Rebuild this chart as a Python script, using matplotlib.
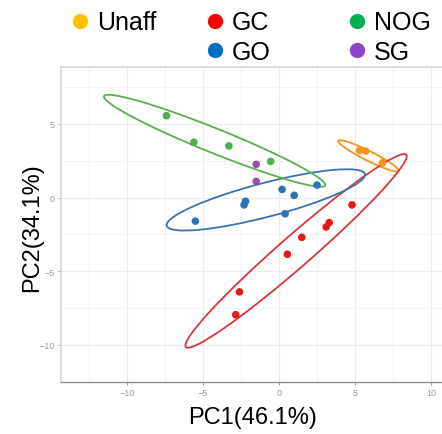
import numpy as np
import matplotlib.pyplot as plt
from matplotlib.patches import Ellipse
from matplotlib.lines import Line2D

plt.rcParams['font.family'] = ['Liberation Sans', 'DejaVu Sans']

# -------------------------------------------------
# Data
# -------------------------------------------------

groups = ['Unaff', 'GC', 'GO', 'NOG', 'SG']

pc1 = {
    'Unaff': [5.3, 5.7, 6.8],
    'GC':    [4.8, 3.3, 3.1, 1.5, 0.55, -2.6, -2.85],
    'GO':    [-5.5, -2.3, -2.2, 0.2, 1.0, 0.4, 2.5],
    'NOG':   [-7.4, -5.6, -3.3, -0.55],
    'SG':    [-1.5, -1.5],
}
pc2 = {
    'Unaff': [3.2, 3.15, 2.35],
    'GC':    [-0.5, -1.7, -2.0, -2.7, -3.85, -6.4, -7.95],
    'GO':    [-1.6, -0.5, -0.25, 0.55, 0.15, -1.1, 0.85],
    'NOG':   [5.55, 3.75, 3.5, 2.45],
    'SG':    [2.25, 1.1],
}

# ellipses: center x, center y, full width, full height, angle (deg)
ell_cx    = {'Unaff': 5.88, 'GC': 1.12, 'GO': -0.87, 'NOG': -4.24, 'SG': None}
ell_cy    = {'Unaff': 2.83, 'GC': -3.62, 'GO': -0.16, 'NOG': 3.85, 'SG': None}
ell_w     = {'Unaff': 4.45, 'GC': 19.5, 'GO': 13.5, 'NOG': 15.75, 'SG': None}
ell_h     = {'Unaff': 0.65, 'GC': 2.1, 'GO': 2.3, 'NOG': 1.65, 'SG': None}
ell_angle = {'Unaff': -27.3, 'GC': 42.0, 'GO': 15.1, 'NOG': -22.6, 'SG': None}

pt_colors  = {'Unaff': '#F7941D', 'GC': '#E41A1C', 'GO': '#2F72B5',
              'NOG': '#4DAF4A', 'SG': '#984EA3'}
ell_colors = {'Unaff': '#F7941D', 'GC': '#D7373B', 'GO': '#3A73B0',
              'NOG': '#5AAE4E', 'SG': '#984EA3'}
leg_colors = {'Unaff': '#FFC000', 'GC': '#FF0000', 'GO': '#0070C0',
              'NOG': '#00B050', 'SG': '#8E44C6'}

x_ticks = [-10, -5, 0, 5, 10]
y_ticks = [-10, -5, 0, 5]

# -------------------------------------------------
# Plot
# -------------------------------------------------

fig = plt.figure(figsize=(4.42, 4.35), dpi=100)
ax = fig.add_axes([0.138, 0.12, 0.862, 0.7235])

for g in groups:
    if ell_cx[g] is not None:
        e = Ellipse((ell_cx[g], ell_cy[g]), ell_w[g], ell_h[g], angle=ell_angle[g],
                    fill=False, edgecolor=ell_colors[g], lw=1.3, zorder=2)
        ax.add_patch(e)
    ax.scatter(pc1[g], pc2[g], s=30, color=pt_colors[g], edgecolors='none', zorder=3)

ax.set_xlim(-14.34, 10.72)
ax.set_ylim(-11.88, 8.85)
ax.set_xticks(x_ticks)
ax.set_yticks(y_ticks)
ax.set_xticks(np.arange(-12.5, 11, 5), minor=True)
ax.set_yticks(np.arange(-12.5, 9, 5), minor=True)
ax.grid(which='major', color='#EBEBEB', lw=0.8)
ax.grid(which='minor', color='#F3F3F3', lw=0.8)
ax.set_axisbelow(True)
ax.tick_params(which='major', labelsize=6.5, labelcolor='#9A9A9A', color='#9A9A9A',
               length=2.5, width=0.7, pad=2)
ax.tick_params(which='minor', length=0)

for s in ['left', 'top']:
    ax.spines[s].set_color('#D6D6D6')
    ax.spines[s].set_linewidth(1.2)
ax.spines['right'].set_visible(False)
ax.spines['bottom'].set_color('#8C8C8C')
ax.spines['bottom'].set_linewidth(1.0)

fig.text(253 / 442, 1 - 418 / 435, 'PC1(46.1%)', fontsize=17, ha='center', va='center')
fig.text(32 / 442, 1 - 228 / 435, 'PC2(34.1%)', fontsize=17, ha='center', va='center',
         rotation=90)

# legend at the top
leg_x_marker = {'Unaff': 80, 'GC': 215, 'GO': 215, 'NOG': 357, 'SG': 357}
leg_y = {'Unaff': 22, 'GC': 22, 'GO': 51, 'NOG': 22, 'SG': 51}
for g in groups:
    fx = leg_x_marker[g] / 442
    fy = 1 - leg_y[g] / 435
    fig.add_artist(Line2D([fx], [fy], marker='o', markersize=11, color=leg_colors[g],
                          markeredgewidth=0, linestyle='none', transform=fig.transFigure))
    fig.text(fx + 17 / 442, fy - 1.5 / 435, g, fontsize=18, ha='left', va='center')

fig.savefig('out.png', dpi=100)
